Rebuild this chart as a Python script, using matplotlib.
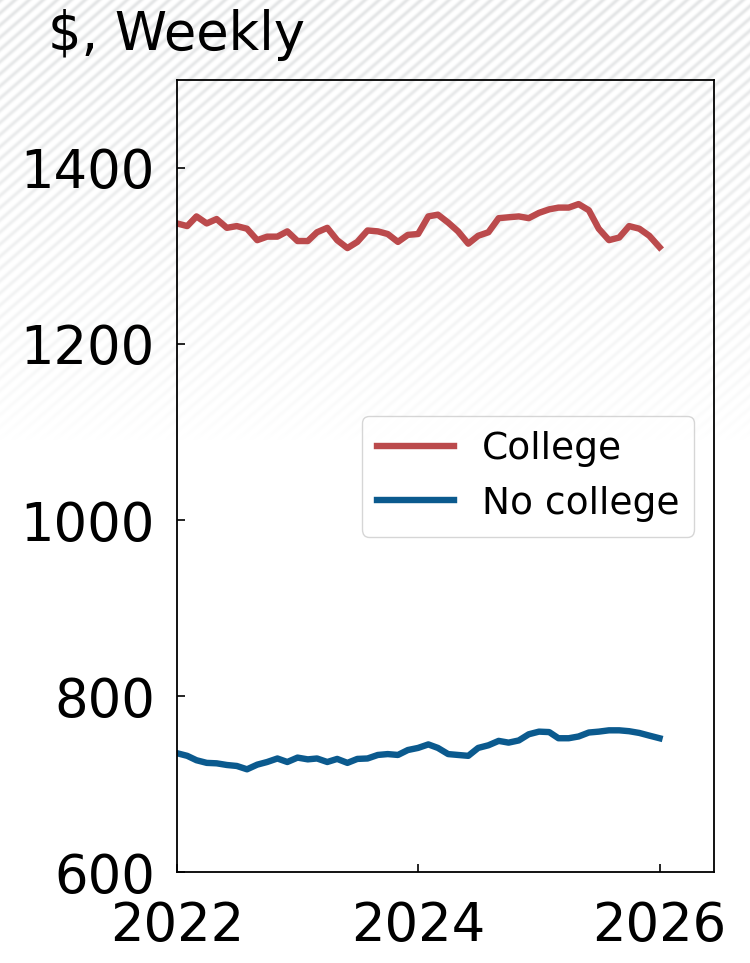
import numpy as np
import pandas as pd
import matplotlib
matplotlib.use("Agg")
import matplotlib.pyplot as plt
import matplotlib.dates as mdates

# monthly weekly earnings, Jan 2022 - Jan 2026
months = pd.date_range("2022-01-01", "2026-01-01", freq="MS")

college = [1337, 1334, 1345, 1337, 1342, 1332, 1334, 1331, 1318, 1322,
           1322, 1328, 1317, 1317, 1327, 1332, 1318, 1309, 1316, 1329,
           1328, 1325, 1316, 1324, 1325, 1345, 1347, 1338, 1328, 1314,
           1323, 1327, 1343, 1344, 1345, 1343, 1349, 1353, 1355, 1355,
           1359, 1352, 1331, 1318, 1321, 1334, 1331, 1323, 1310]

no_college = [735, 732, 727, 724, 723.5, 721.6, 720.5, 716.7, 722, 725,
              729, 725, 730, 728, 729, 725, 728.5, 724, 728.5, 729,
              733, 734, 733, 738.6, 741, 745, 741, 734, 733, 732,
              741, 744, 749, 747, 749.5, 756.5, 759.5, 759, 752, 752,
              754, 758.5, 759.5, 761, 761, 760, 758, 755, 752]

series_names = ["College", "No college"]
series_colors = ["#bb4a4c", "#0b5a8e"]

yticks = [600, 800, 1000, 1200, 1400]
xtick_years = [2022, 2024, 2026]

W, H = 750, 963
fig = plt.figure(figsize=(W / 100, H / 100), dpi=100)
fig.patch.set_facecolor("white")

# faint diagonal hatch background fading out towards the middle
yy, xx = np.mgrid[0:H, 0:W]
phase = (xx + 1.15 * yy) % 14.0
stripe = (0.5 * (1 + np.cos(2 * np.pi * phase / 14.0))) ** 2
fade = np.clip(1.0 - yy / 440.0, 0, 1) ** 0.7
bg = np.zeros((H, W, 4))
bg[..., 0] = 0.79
bg[..., 1] = 0.80
bg[..., 2] = 0.81
bg[..., 3] = stripe * fade * 0.5
fig.figimage(bg, xo=0, yo=0, origin="upper", zorder=0)

ax = fig.add_axes([177 / W, 1 - 872 / H, (714 - 177) / W, (872 - 80) / H])
ax.set_facecolor("none")
ax.set_zorder(2)

ax.plot(months, college, color=series_colors[0], lw=4.6, label=series_names[0])
ax.plot(months, no_college, color=series_colors[1], lw=4.6, label=series_names[1])

ax.set_ylim(600, 1500)
ax.set_yticks(yticks)
ax.set_xlim(pd.Timestamp("2022-01-01"), pd.Timestamp("2026-06-15"))
ax.set_xticks([pd.Timestamp(f"{y}-01-01") for y in xtick_years])
ax.xaxis.set_major_formatter(mdates.DateFormatter("%Y"))

ax.tick_params(axis="both", direction="in", length=6, width=1.2, labelsize=38)
ax.tick_params(axis="x", pad=20)
ax.tick_params(axis="y", pad=16)
for s in ax.spines.values():
    s.set_linewidth(1.3)

ax.legend(loc="upper right", bbox_to_anchor=(0.963, 0.576), borderaxespad=0,
          fontsize=27, handlelength=2.05, handletextpad=0.75, edgecolor="#cccccc")

fig.text(48 / W, 1 - 50 / H, "\\$, Weekly", fontsize=38, va="baseline", zorder=3)

fig.savefig("out.png", dpi=100)
